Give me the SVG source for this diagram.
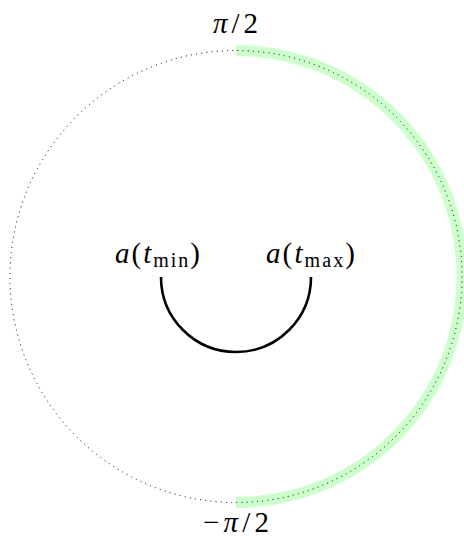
<svg xmlns="http://www.w3.org/2000/svg" width="464" height="539" viewBox="0 0 464 539">
<style>
text{font-family:"Liberation Serif","DejaVu Serif",serif;font-size:29px;fill:#000}
.it{font-style:italic}
.sub{font-size:20px}
</style>
<rect width="464" height="539" fill="#fff"/>
<g id="range">
<path d="M236,50.5 A226,226 0 0 1 236,502.5" fill="none" stroke="#ccffcc" stroke-width="11"/>
</g>
<g id="circle">
<circle cx="236" cy="276.5" r="226" fill="none" stroke="#000" stroke-width="1" stroke-dasharray="1 4.2"/>
</g>
<g id="connectors">
<path d="M161,277 A75,75 0 0 0 311,277" fill="none" stroke="#000" stroke-width="2.6"/>
</g>
<g id="label-top"><text x="213" y="33" textLength="45" lengthAdjust="spacing"><tspan class="it">π</tspan>/2</text></g>
<g id="label-bottom"><text x="203" y="532" textLength="66" lengthAdjust="spacing">−<tspan class="it">π</tspan>/2</text></g>
<g id="label-tmin"><text x="115" y="263" textLength="85" lengthAdjust="spacing"><tspan class="it">a</tspan>(<tspan class="it">t</tspan><tspan class="sub" dy="4">min</tspan><tspan dy="-4">)</tspan></text></g>
<g id="label-tmax"><text x="266" y="263" textLength="89" lengthAdjust="spacing"><tspan class="it">a</tspan>(<tspan class="it">t</tspan><tspan class="sub" dy="4">max</tspan><tspan dy="-4">)</tspan></text></g>
</svg>
